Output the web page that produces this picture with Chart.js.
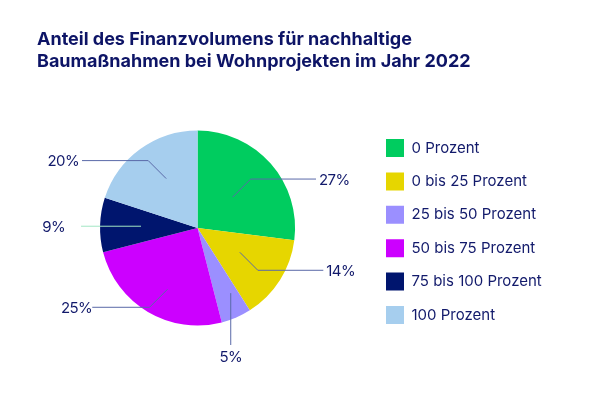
<!DOCTYPE html>
<html>
<head>
<meta charset="utf-8">
<script src="https://cdn.jsdelivr.net/npm/chart.js"></script>
<style>
  html, body { margin: 0; padding: 0; background: #fff; }
</style>
</head>
<body>
<canvas id="visualization" width="599" height="399"></canvas>
<script>
const titleLines = ['Anteil des Finanzvolumens für nachhaltige', 'Baumaßnahmen bei Wohnprojekten im Jahr 2022'];
const categories = ['0 Prozent', '0 bis 25 Prozent', '25 bis 50 Prozent', '50 bis 75 Prozent', '75 bis 100 Prozent', '100 Prozent'];
const shares = [27, 14, 5, 25, 9, 20];
const sliceColors = ['#00cc5f', '#e6d600', '#9b8fff', '#cc00ff', '#00156e', '#a6ceee'];

const FONT = 'Inter, "Noto Sans", sans-serif';
const TEXT = '#121a6b';

// where each leader line starts inside its slice and where the label sits (units of radius)
const leaders = [
    {at: 0.5, r: 0.48, endX: 1.215},
    {at: 0.45, r: 0.5, endX: 1.29},
    {at: 0.3, r: 0.75, down: 1.2},
    {at: 0.45, r: 0.7, endX: -1.08, gap: 0},
    {at: 0.5, r: 0.58, endX: -1.195, straight: true, color: '#a3e6c4', gap: 16},
    {at: 0.55, r: 0.6, endX: -1.185},
];

const leaderLabels = {
    id: 'leaderLabels',
    afterDatasetsDraw(chart) {
        const ctx = chart.ctx;
        const meta = chart.getDatasetMeta(0);
        ctx.save();
        ctx.font = '15px ' + FONT;
        if ('letterSpacing' in ctx) ctx.letterSpacing = '-0.6px';
        ctx.lineWidth = 1;
        meta.data.forEach((arc, i) => {
            const p = arc.getProps(['x', 'y', 'startAngle', 'endAngle', 'outerRadius'], true);
            const L = leaders[i];
            const R = p.outerRadius;
            const a = p.startAngle + L.at * (p.endAngle - p.startAngle);
            const x0 = p.x + Math.cos(a) * L.r * R;
            const y0 = p.y + Math.sin(a) * L.r * R;
            const label = shares[i] + '%';
            ctx.strokeStyle = L.color || '#5a69a8';
            ctx.fillStyle = TEXT;
            ctx.beginPath();
            ctx.moveTo(x0, y0);
            if (L.down) {
                const y1 = p.y + L.down * R;
                ctx.lineTo(x0, y1);
                ctx.stroke();
                ctx.textAlign = 'center';
                ctx.textBaseline = 'middle';
                ctx.fillText(label, x0, y1 + 12.5);
                return;
            }
            const side = L.endX > 0 ? 1 : -1;
            let x1 = x0, y1 = y0;
            if (!L.straight) {
                x1 = x0 + side * 18;
                y1 = y0 + (Math.sin(a) > 0 ? 18 : -18);
                ctx.lineTo(x1, y1);
            }
            const xe = p.x + L.endX * R;
            ctx.lineTo(xe, y1);
            ctx.stroke();
            const gap = L.gap === undefined ? 3 : L.gap;
            ctx.textAlign = side > 0 ? 'left' : 'right';
            ctx.textBaseline = 'middle';
            ctx.fillText(label, xe + side * gap, y1 + 1);
        });
        ctx.restore();
    }
};

// title starts further left than the pie's chart area would allow
const titleShift = {
    id: 'titleShift',
    afterLayout(chart) {
        if (chart.titleBlock) chart.titleBlock.left = 37;
    }
};

// legend box width so that the swatches start at x = 386
const mctx = document.createElement('canvas').getContext('2d');
mctx.font = '15px ' + FONT;
const longest = Math.max(...categories.map(c => mctx.measureText(c).width));
const legendPad = 15.4;
const legendLeft = 386 - legendPad;
const legendWidth = legendPad + 18 + 7.5 + longest + 10;
const padRight = Math.max(0, 599 - legendLeft - legendWidth);

Chart.defaults.font.family = FONT;

new Chart(document.getElementById('visualization'), {
    type: 'pie',
    data: {
        labels: categories,
        datasets: [{
            data: shares,
            backgroundColor: sliceColors,
            borderWidth: 0,
            radius: 97.5,
        }]
    },
    options: {
        responsive: false,
        animation: false,
        events: [],
        layout: {
            padding: {left: 24.5, right: padRight, top: 0, bottom: 43.2}
        },
        plugins: {
            title: {
                display: true,
                text: titleLines,
                align: 'start',
                color: '#0d1466',
                font: {size: 18, weight: 'bold', lineHeight: 1.2},
                padding: {top: 29, bottom: 28}
            },
            legend: {
                position: 'right',
                align: 'center',
                fullSize: false,
                title: {display: true, text: '', font: {size: 7, lineHeight: 1}, padding: 0},
                labels: {
                    boxWidth: 18,
                    boxHeight: 18,
                    padding: legendPad,
                    color: TEXT,
                    font: {size: 15}
                }
            },
            tooltip: {enabled: false}
        }
    },
    plugins: [leaderLabels, titleShift]
});
</script>
</body>
</html>
